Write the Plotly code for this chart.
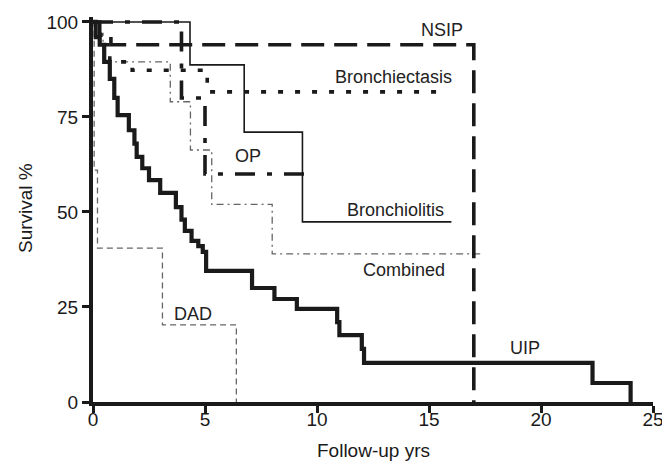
import plotly.graph_objects as go

# Kaplan-Meier style step data (time in years, survival %)
uip_t = [0, 0.12, 0.3, 0.5, 0.75, 0.95, 1.1, 1.6, 1.85, 1.95, 2.2, 2.5, 3.0, 3.7, 3.95, 4.1, 4.4, 4.7, 4.9, 5.05, 7.1, 8.1, 9.1, 10.9, 11.0, 12.0, 12.1, 22.3, 24.0]
uip_s = [100, 96, 94, 89.5, 85, 80, 75.5, 71.5, 68, 64.5, 61.5, 58.4, 55, 51.3, 48, 45, 42.4, 41, 39.5, 34.5, 30, 27.1, 24.5, 21, 17.6, 14, 10.3, 5.0, 0]

nsip_t = [0, 0.3, 0.8, 17.0]
nsip_s = [100, 96.5, 94, 0]

bronchiectasis_t = [0, 0.3, 0.75, 1.75, 5.1, 15.7]
bronchiectasis_s = [100, 94, 89.5, 87.3, 81.6, 81.6]

op_t = [0, 3.95, 5.0, 9.6]
op_s = [100, 80, 60, 60]

bronchiolitis_t = [0, 4.33, 6.75, 9.35, 16.0]
bronchiolitis_s = [100, 88.7, 71, 47.4, 47.4]

combined_t = [0, 0.1, 0.45, 3.45, 4.35, 5.3, 8.0, 17.3]
combined_s = [100, 97, 89.5, 79, 66.3, 52, 39, 39]

dad_t = [0, 0.05, 0.2, 3.1, 6.4]
dad_s = [100, 61, 40.5, 20.3, 0]

labels = ["NSIP", "Bronchiectasis", "OP", "Bronchiolitis", "Combined", "DAD", "UIP"]
label_x = [15.6, 13.4, 6.9, 13.5, 13.9, 4.45, 19.3]
label_y = [97.9, 85.5, 64.7, 50.5, 34.7, 23.2, 14.2]

x_ticks = [0, 5, 10, 15, 20, 25]
y_ticks = [0, 25, 50, 75, 100]

fig = go.Figure()

def add(t, s, color, width, dash):
    fig.add_trace(go.Scatter(x=t, y=s, mode="lines", line_shape="hv",
                             line=dict(color=color, width=width, dash=dash),
                             showlegend=False, hoverinfo="skip"))

add(combined_t, combined_s, "#666666", 1.3, "7px,4px,2px,4px")
add(dad_t, dad_s, "#666666", 1.3, "6px,4px")
add(bronchiolitis_t, bronchiolitis_s, "#1a1a1a", 1.6, "solid")
add(bronchiectasis_t, bronchiectasis_s, "#1a1a1a", 3.6, "5px,12px")
add(op_t, op_s, "#1a1a1a", 3.6, "20px,12px,5px,12px")
add(nsip_t, nsip_s, "#1a1a1a", 3.6, "23px,10px")
add(uip_t, uip_s, "#1a1a1a", 4.2, "solid")

fam = "Arial, Liberation Sans, sans-serif"
for txt, lx, ly in zip(labels, label_x, label_y):
    fig.add_annotation(x=lx, y=ly, text=txt, showarrow=False,
                       xanchor="center", yanchor="middle",
                       font=dict(size=18, color="#222222", family=fam))

axis_font = dict(size=19, color="#1a1a1a", family=fam)

# The page body has an 8px default margin, so the figure is 8px smaller.
# plot area in page pixels: x 93..653, y 17..402 (y=100 at 22)
fig.add_annotation(xref="paper", yref="paper", x=0.5, y=(402 - 450) / 385,
                   text="Follow-up yrs", showarrow=False,
                   xanchor="center", yanchor="middle", font=axis_font)
fig.add_annotation(xref="paper", yref="paper", x=(25 - 93) / 560, y=(402 - 208) / 385,
                   text="Survival %", showarrow=False, textangle=-90,
                   xanchor="center", yanchor="middle", font=axis_font)

fig.update_layout(
    width=662, height=453,
    margin=dict(l=85, r=17, t=9, b=59),
    paper_bgcolor="white", plot_bgcolor="white",
    font=axis_font,
    xaxis=dict(range=[0, 25], tickvals=x_ticks, showgrid=False, zeroline=False,
               showline=True, linecolor="#1a1a1a", linewidth=4, automargin=False,
               ticks="outside", ticklen=7, tickwidth=3, tickcolor="#1a1a1a",
               ticklabelstandoff=-10, tickfont=axis_font),
    yaxis=dict(range=[0, 101.3], tickvals=y_ticks, showgrid=False, zeroline=False,
               showline=True, linecolor="#1a1a1a", linewidth=4, automargin=False,
               ticks="outside", ticklen=7, tickwidth=3, tickcolor="#1a1a1a",
               tickfont=axis_font),
)

fig.write_html("out.html")
